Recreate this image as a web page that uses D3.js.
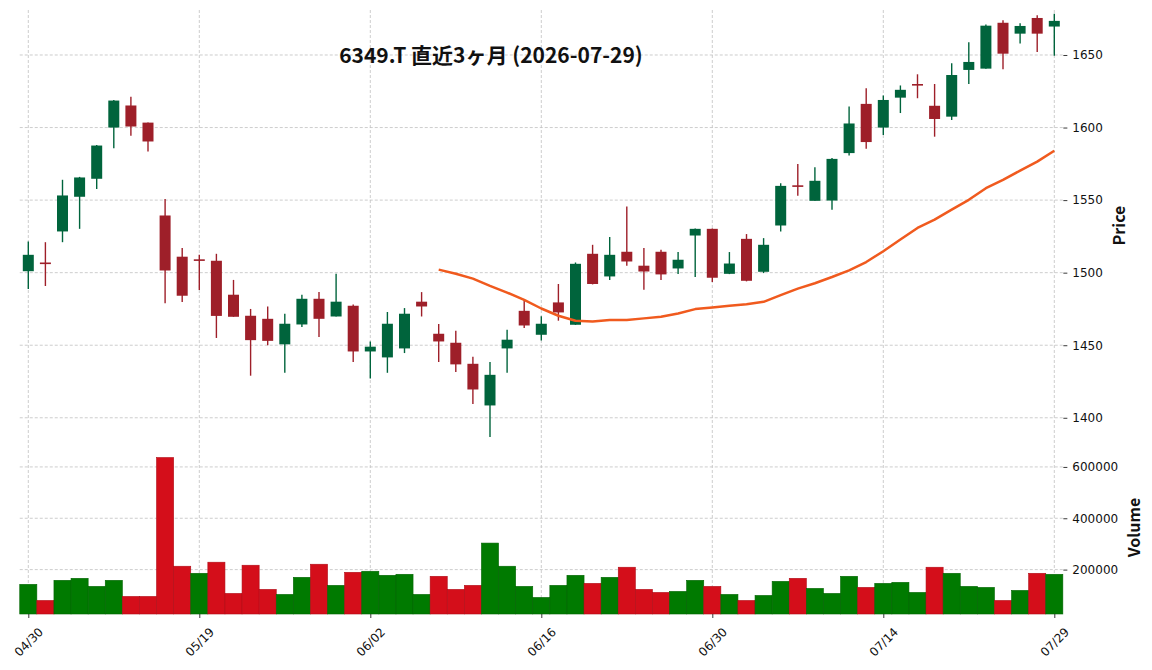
<!DOCTYPE html>
<html>
<head>
<meta charset="utf-8">
<script src="https://cdn.jsdelivr.net/npm/d3@7"></script>
<style>
  body { margin: 0; background: #fff; }
  svg { display: block; }
</style>
</head>
<body>
<div id="vis"></div>
<script>
// Frame
const FRAME_WIDTH = 1152;
const FRAME_HEIGHT = 670;
const PLOT = {left: 19.75, right: 1062.85};
const PRICE_PANEL = {top: 10, bottom: 441};
const VOL_PANEL = {top: 441, bottom: 614};

// Data
const DATES = ["04/30","05/01","05/07","05/08","05/11","05/12","05/13","05/14","05/15","05/18",
               "05/19","05/20","05/21","05/22","05/25","05/26","05/27","05/28","05/29","06/01",
               "06/02","06/03","06/04","06/05","06/08","06/09","06/10","06/11","06/12","06/15",
               "06/16","06/17","06/18","06/19","06/22","06/23","06/24","06/25","06/26","06/29",
               "06/30","07/01","07/02","07/03","07/06","07/07","07/08","07/09","07/10","07/13",
               "07/14","07/15","07/16","07/17","07/21","07/22","07/23","07/24","07/27","07/28",
               "07/29"];

const OPENS = [1501, 1507, 1528.4, 1552.3, 1564.7, 1600, 1615.2, 1603.4, 1539.4, 1511,
               1509.2, 1508.2, 1484.8, 1470.3, 1468.2, 1450.6, 1464.3, 1482, 1469.8, 1477.2,
               1445.7, 1441.6, 1447.8, 1480, 1457.9, 1451.7, 1437.2, 1408.5, 1447.8, 1473.7,
               1457.2, 1479.5, 1464.1, 1513, 1497.4, 1514.4, 1504.8, 1514.4, 1502.9, 1525.6,
               1530.2, 1499.2, 1523.3, 1500.6, 1532.5, 1560.2, 1549.5, 1549.7, 1582.4, 1616.3,
               1600, 1620.6, 1630, 1615, 1607.5, 1639.7, 1640.6, 1672.2, 1664.7, 1675.5,
               1669.6];

const HIGHS = [1521.5, 1521, 1564, 1566, 1588, 1619, 1621.3, 1603.5, 1550.7, 1517,
               1512.3, 1513, 1495, 1475, 1476.7, 1471.7, 1484.8, 1486.6, 1499.2, 1478,
               1452.6, 1472.9, 1475.6, 1486.6, 1464.6, 1460, 1442, 1438.4, 1460.7, 1481.3,
               1470, 1492.2, 1507, 1519.2, 1524.5, 1545.6, 1517, 1515.8, 1514.2, 1530.5,
               1530.5, 1514.2, 1526.6, 1523.8, 1561.7, 1574.8, 1572.7, 1579, 1614.5, 1627,
               1622, 1629, 1636.7, 1630, 1644.3, 1658.8, 1671, 1674, 1671.8, 1677.3,
               1678.4];

const LOWS = [1488.7, 1490.8, 1521, 1530.2, 1557.6, 1585.7, 1594.3, 1583.5, 1479, 1479.8,
              1488, 1455, 1469.6, 1429, 1449.9, 1431, 1462.5, 1455.6, 1469.8, 1438.4,
              1427, 1431, 1444.6, 1469.8, 1438.4, 1431.5, 1409.5, 1386.8, 1431, 1461.8,
              1453.3, 1466.9, 1464, 1491.9, 1495, 1504.8, 1488.2, 1495, 1499, 1497,
              1493.5, 1499, 1494, 1499.7, 1528.4, 1553, 1549.5, 1543.3, 1580.7, 1585.4,
              1594.8, 1610, 1620.2, 1593.7, 1605.2, 1630, 1640.6, 1640.2, 1658, 1652,
              1649.5];

const CLOSES = [1512.3, 1506.2, 1553.2, 1565.6, 1587.6, 1618.6, 1600.7, 1590.4, 1501.5, 1484.1,
                1508.5, 1470.2, 1469.6, 1453.5, 1453, 1464.8, 1482, 1468.2, 1480, 1445.7,
                1449, 1464.8, 1471.7, 1476.7, 1452.6, 1436.8, 1419.5, 1429.6, 1453.8, 1463.6,
                1464.8, 1472.6, 1506.1, 1492.2, 1512.3, 1507.7, 1500.8, 1498.8, 1508.9, 1530.2,
                1496.5, 1506.3, 1494.4, 1519.2, 1559.8, 1559.4, 1563.3, 1578.4, 1602.8, 1590,
                1619, 1626, 1629.2, 1605.9, 1636.2, 1645.2, 1670.2, 1650.9, 1670, 1664.7,
                1673.5];

const VOLUMES = [142500, 79700, 158200, 166000, 134600, 158200, 95400, 95400, 636600, 213100,
                 185600, 228800, 107200, 217000, 122900, 103300, 169900, 220900, 138600, 189500,
                 193500, 177800, 181700, 103300, 173900, 122900, 138600, 303300, 213100, 134600,
                 91500, 138600, 177800, 146400, 169900, 209200, 122900, 111100, 115000, 158200,
                 134600, 103300, 79700, 99300, 154200, 166000, 126800, 107200, 173900, 130700,
                 146400, 150300, 111100, 209200, 185600, 134600, 130700, 79700, 118900, 185600,
                 181700];

// 25-day moving average, starts at the 25th session
const MA_START = 24;
const MA25 = [1502.1, 1499.3, 1495.9, 1490.9, 1486.3, 1481.3, 1475.3, 1470.3, 1466.9, 1466.4,
              1467.4, 1467.4, 1468.5, 1469.6, 1471.9, 1474.9, 1476, 1477.2, 1478.3, 1479.9,
              1484.5, 1489, 1492.7, 1497, 1501.6, 1507.3, 1514.8, 1522.8, 1530.8, 1536.5,
              1543.4, 1550.2, 1558.2, 1563.9, 1570.3, 1576.5, 1584];

const X_TICKS = [0, 10, 20, 30, 40, 50, 60];
const PRICE_TICKS = [1400, 1450, 1500, 1550, 1600, 1650];
const VOL_TICKS = [200000, 400000, 600000];
const TITLE = "6349.T 直近3ヶ月 (2026-07-29)";

// Colours
const UP = "#00643c", DOWN = "#9e1f29";
const VOL_UP = "#007a00", VOL_DOWN = "#d40e1a";
const MA_COLOR = "#f05a1e";
const GRID = "#c0c0c0";

const FRAME = d3.select("#vis")
                .append("svg")
                  .attr("width", FRAME_WIDTH)
                  .attr("height", FRAME_HEIGHT);

// Scales
const X_SCALE = d3.scaleLinear()
                  .domain([-0.5, DATES.length - 0.5])
                  .range([PLOT.left, PLOT.right]);

const Y_PRICE = d3.scaleLinear()
                  .domain([1384, 1681])
                  .range([PRICE_PANEL.bottom, PRICE_PANEL.top]);

const Y_VOL = d3.scaleLinear()
                .domain([27000, 701000])
                .range([VOL_PANEL.bottom, VOL_PANEL.top]);

const STEP = X_SCALE(1) - X_SCALE(0);

// Grid lines
const grid = FRAME.append("g").attr("stroke", GRID).attr("stroke-width", 0.8)
                  .attr("stroke-dasharray", "3,2");

grid.selectAll(".vgrid")
    .data(X_TICKS)
    .enter()
    .append("line")
      .attr("x1", d => X_SCALE(d)).attr("x2", d => X_SCALE(d))
      .attr("y1", PRICE_PANEL.top).attr("y2", VOL_PANEL.bottom);

grid.selectAll(".pgrid")
    .data(PRICE_TICKS)
    .enter()
    .append("line")
      .attr("x1", PLOT.left).attr("x2", PLOT.right)
      .attr("y1", d => Y_PRICE(d)).attr("y2", d => Y_PRICE(d));

grid.selectAll(".vlgrid")
    .data(VOL_TICKS)
    .enter()
    .append("line")
      .attr("x1", PLOT.left).attr("x2", PLOT.right)
      .attr("y1", d => Y_VOL(d)).attr("y2", d => Y_VOL(d));

// Volume bars, coloured by close vs previous close
const idx = d3.range(DATES.length);

FRAME.append("g")
     .selectAll("rect")
     .data(idx)
     .enter()
     .append("rect")
       .attr("x", i => X_SCALE(i) - STEP / 2)
       .attr("width", STEP)
       .attr("y", i => Y_VOL(VOLUMES[i]))
       .attr("height", i => Y_VOL.range()[0] - Y_VOL(VOLUMES[i]))
       .attr("fill", i => (i == 0 || CLOSES[i] >= CLOSES[i - 1]) ? VOL_UP : VOL_DOWN)
       .attr("stroke", i => (i == 0 || CLOSES[i] >= CLOSES[i - 1]) ? "#006400" : "#b00c16")
       .attr("stroke-width", 0.6);

// Candles
const candles = FRAME.append("g");

candles.selectAll(".wick")
       .data(idx)
       .enter()
       .append("line")
         .attr("x1", i => X_SCALE(i)).attr("x2", i => X_SCALE(i))
         .attr("y1", i => Y_PRICE(HIGHS[i]))
         .attr("y2", i => Y_PRICE(LOWS[i]))
         .attr("stroke", i => CLOSES[i] >= OPENS[i] ? UP : DOWN)
         .attr("stroke-width", 1.4);

const BODY_W = 11;
candles.selectAll(".body")
       .data(idx)
       .enter()
       .append("rect")
         .attr("x", i => X_SCALE(i) - BODY_W / 2)
         .attr("width", BODY_W)
         .attr("y", i => Y_PRICE(Math.max(OPENS[i], CLOSES[i])))
         .attr("height", i => Math.max(1.6, Math.abs(Y_PRICE(OPENS[i]) - Y_PRICE(CLOSES[i]))))
         .attr("fill", i => CLOSES[i] >= OPENS[i] ? UP : DOWN);

// Moving average
const maLine = d3.line()
                 .x((d, j) => X_SCALE(MA_START + j))
                 .y(d => Y_PRICE(d));

FRAME.append("path")
     .attr("d", maLine(MA25))
     .attr("fill", "none")
     .attr("stroke", MA_COLOR)
     .attr("stroke-width", 2.5)
     .attr("stroke-linejoin", "round");

// Axes
const TICK_FONT = "DejaVu Sans, sans-serif";

const priceAxis = FRAME.append("g")
     .attr("transform", "translate(" + (PLOT.right + 0.5) + ",0)")
     .call(d3.axisRight(Y_PRICE).tickValues(PRICE_TICKS).tickSize(4).tickPadding(5)
             .tickFormat(d3.format("d")));

const volAxis = FRAME.append("g")
     .attr("transform", "translate(" + (PLOT.right + 0.5) + ",0)")
     .call(d3.axisRight(Y_VOL).tickValues(VOL_TICKS).tickSize(4).tickPadding(5)
             .tickFormat(d3.format("d")));

const xAxis = FRAME.append("g")
     .attr("transform", "translate(0," + VOL_PANEL.bottom + ")")
     .call(d3.axisBottom(X_SCALE).tickValues(X_TICKS).tickSize(4)
             .tickFormat(i => DATES[i]));

[priceAxis, volAxis, xAxis].forEach(ax => {
  ax.select(".domain").remove();
  ax.selectAll("line").attr("stroke", "#222").attr("stroke-width", 0.9);
  ax.selectAll("text")
    .attr("font-family", TICK_FONT)
    .attr("font-size", "12px")
    .attr("fill", "#111");
});

xAxis.selectAll("text")
     .attr("text-anchor", "middle")
     .attr("dy", "0.35em")
     .attr("y", 28)
     .attr("transform", "rotate(-45,0,28)");

// Labels
const LABEL_FONT = "'Noto Sans CJK JP', 'Noto Sans', sans-serif";

FRAME.append("text")
     .attr("x", 491).attr("y", 63)
     .attr("text-anchor", "middle")
     .attr("font-family", LABEL_FONT)
     .attr("font-weight", "bold")
     .attr("font-size", "21px")
     .attr("fill", "#111")
     .text(TITLE);

FRAME.append("text")
     .attr("transform", "translate(1118," + ((PRICE_PANEL.top + PRICE_PANEL.bottom) / 2) + ") rotate(-90)")
     .attr("text-anchor", "middle")
     .attr("dominant-baseline", "central")
     .attr("font-family", LABEL_FONT)
     .attr("font-weight", "bold")
     .attr("font-size", "16px")
     .attr("fill", "#111")
     .text("Price");

FRAME.append("text")
     .attr("transform", "translate(1133," + ((VOL_PANEL.top + VOL_PANEL.bottom) / 2) + ") rotate(-90)")
     .attr("text-anchor", "middle")
     .attr("dominant-baseline", "central")
     .attr("font-family", LABEL_FONT)
     .attr("font-weight", "bold")
     .attr("font-size", "16px")
     .attr("fill", "#111")
     .text("Volume");
</script>
</body>
</html>
